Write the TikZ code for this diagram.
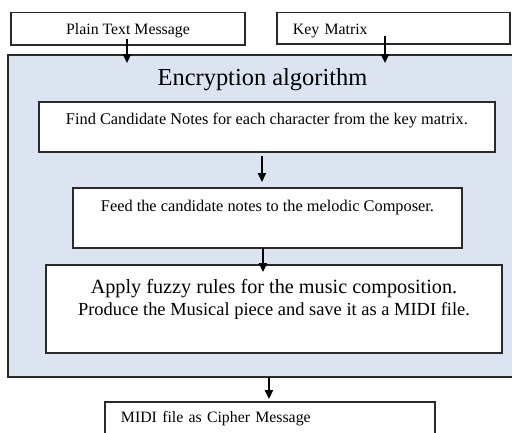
\documentclass[tikz,border=0pt]{standalone}
\usepackage{fontspec}
\setmainfont{Liberation Serif}
\usetikzlibrary{arrows.meta}
\definecolor{algfill}{HTML}{DBE4F0}
\definecolor{edgegray}{HTML}{2A2A2A}

\begin{document}
\begin{tikzpicture}[x=0.02cm, y=-0.02cm,
  every node/.style={outer sep=0pt, inner sep=0pt, anchor=north west},
  box/.style={draw=edgegray, line width=0.7pt, fill=white, rectangle},
  small/.style={font=\fontsize{9}{11}\selectfont},
  arr/.style={draw=black, line width=0.8pt, -{Triangle[length=5pt, width=4.6pt]}}]
\useasboundingbox (0,0) rectangle (512,433);
\clip (0,0) rectangle (512,433);

% inputs
\node[box, small, minimum width=4.68cm, text height=0.45cm, text depth=0.2cm] (ptm) at (11,12.5) {Plain Text Message};
\node[box, small, minimum width=4.66cm, text width=4.02cm, inner xsep=0.32cm, align=left, text height=0.45cm, text depth=0.18cm] (key) at (277,12.5) {Key Matrix};

% algorithm
\node[box, fill=algfill, minimum width=10.7cm, minimum height=6.44cm] (enc) at (8,55) {};
\node[anchor=base, font=\fontsize{13.9}{16}\selectfont] (title) at (262.5,85) {Encryption algorithm};

\node[box, font=\fontsize{9.3}{11}\selectfont, minimum width=9.12cm, text height=0.46cm, text depth=0.54cm] (find) at (39,102) {Find Candidate Notes for each character from the key matrix.};
\node[box, font=\fontsize{9.3}{11}\selectfont, minimum width=7.78cm, text height=0.48cm, text depth=0.72cm] (feed) at (73,188) {Feed the candidate notes to the melodic Composer.};
\node[box, minimum width=9.12cm, minimum height=1.76cm] (fuzzy) at (46,265) {};
\node[anchor=base, font=\fontsize{11.5}{12.5}\selectfont, align=center] (rules) at (274,315) {Apply fuzzy rules for the music composition.\\{\fontsize{10.5}{12.5}\selectfont Produce the Musical piece and save it as a MIDI file.}};

% output
\node[box, small, minimum width=6.6cm, text width=5.96cm, inner xsep=0.32cm, align=left, text height=0.42cm, text depth=1cm] (out) at (105,402) {MIDI file as Cipher Message};

% arrows
\draw[arr, shorten <=-0.12cm, shorten >=-0.16cm] ([xshift=-0.02cm]ptm.south) -- ([xshift=-0.02cm]ptm.south |- enc.north);
\draw[arr, shorten <=-0.16cm, shorten >=-0.16cm] ([xshift=-0.17cm]key.south) -- ([xshift=-0.17cm]key.south |- enc.north);
\draw[arr, shorten <=0.08cm, shorten >=0.12cm] ([xshift=-0.1cm]find.south) -- ([xshift=-0.1cm]find.south |- feed.north);
\draw[arr, shorten >=-0.14cm] ([xshift=-0.09cm]feed.south) -- ([xshift=-0.09cm]feed.south |- fuzzy.north);
\draw[arr, shorten >=0.06cm] ([xshift=-0.02cm]out.north |- enc.south) -- ([xshift=-0.02cm]out.north);
\end{tikzpicture}
\end{document}
